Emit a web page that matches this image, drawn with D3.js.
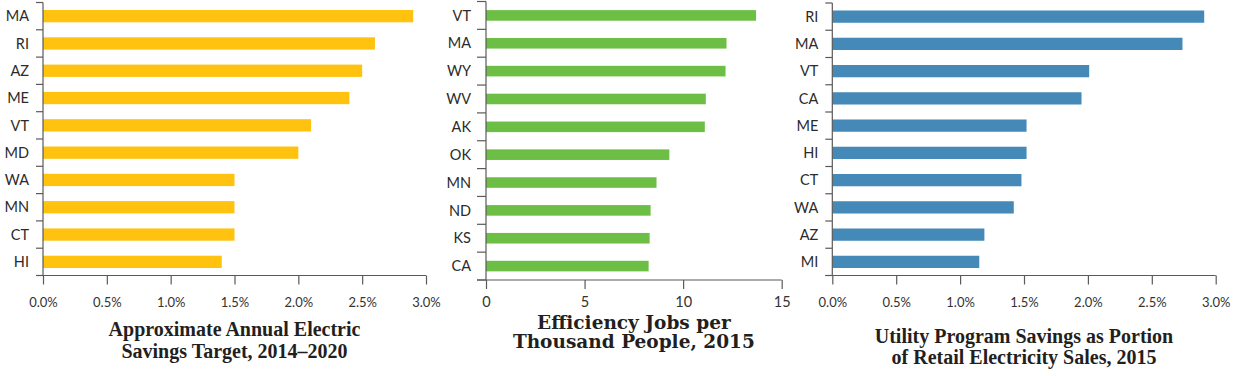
<!DOCTYPE html>
<html><head><meta charset="utf-8">
<script src="https://cdn.jsdelivr.net/npm/d3@7"></script>
<style>
html,body{margin:0;padding:0;background:#fff;}
svg{display:block;}
</style></head>
<body>
<svg id="chart" width="1238" height="376"></svg>
<script>
// ---- Data ----
const states1 = ["MA","RI","AZ","ME","VT","MD","WA","MN","CT","HI"];
const values1 = [2.9, 2.6, 2.5, 2.4, 2.1, 2.0, 1.5, 1.5, 1.5, 1.4];
const ticks1 = [0, 0.5, 1.0, 1.5, 2.0, 2.5, 3.0];
const title1 = ["Approximate Annual Electric", "Savings Target, 2014\u20132020"];

const states2 = ["VT","MA","WY","WV","AK","OK","MN","ND","KS","CA"];
const values2 = [13.7, 12.2, 12.15, 11.15, 11.1, 9.3, 8.65, 8.35, 8.3, 8.25];
const ticks2 = [0, 5, 10, 15];
const title2 = ["Efficiency Jobs per", "Thousand People, 2015"];

const states3 = ["RI","MA","VT","CA","ME","HI","CT","WA","AZ","MI"];
const values3 = [2.91, 2.74, 2.01, 1.95, 1.52, 1.52, 1.48, 1.42, 1.19, 1.15];
const ticks3 = [0, 0.5, 1.0, 1.5, 2.0, 2.5, 3.0];
const title3 = ["Utility Program Savings as Portion", "of Retail Electricity Sales, 2015"];

const svg = d3.select("#chart");
const axisColor = "#5a5a5a";

function panel(o) {
  const g = svg.append("g");
  const x = d3.scaleLinear().domain(o.domain).range([o.x0, o.x1]);
  const yb = d3.scaleBand().domain(o.states).range([o.y0, o.y1]).padding(0);
  const y = d3.scaleBand().domain(o.states).range([o.y0, o.y1]).paddingInner(o.pad).paddingOuter(o.pad / 2);

  // bars
  g.selectAll("rect.bar").data(o.states).join("rect")
    .attr("class", "bar")
    .attr("x", x(0))
    .attr("y", d => y(d))
    .attr("width", (d, i) => x(o.values[i]) - x(0))
    .attr("height", y.bandwidth())
    .attr("fill", o.color);

  // y axis line + boundary ticks
  g.append("line").attr("x1", x(0)).attr("x2", x(0)).attr("y1", o.y0).attr("y2", o.y1)
    .attr("stroke", axisColor).attr("stroke-width", 1.2);
  const bounds = o.states.map(d => yb(d)).concat([o.y1]);
  g.selectAll("line.yt").data(bounds).join("line").attr("class", "yt")
    .attr("x1", x(0) - o.ytick).attr("x2", x(0))
    .attr("y1", d => d).attr("y2", d => d)
    .attr("stroke", axisColor).attr("stroke-width", 1.2);
  // y labels
  g.selectAll("text.yl").data(o.states).join("text").attr("class", "yl")
    .attr("x", x(0) - o.labelGap)
    .attr("y", d => yb(d) + yb.bandwidth() / 2)
    .attr("dy", "0.36em")
    .attr("text-anchor", "end")
    .attr("font-family", "Lato, 'Open Sans', sans-serif")
    .attr("font-size", 14.5)
    .attr("fill", "#2b2b2b")
    .text(d => d);

  // x axis
  const ax = g.append("g").attr("transform", `translate(0,${o.y1})`)
    .call(d3.axisBottom(x).tickValues(o.ticks).tickSize(9).tickSizeOuter(0).tickPadding(o.tickPad).tickFormat(o.fmt));
  ax.select(".domain").attr("stroke", axisColor).attr("stroke-width", 1.2)
    .attr("d", `M${x(0) - o.ytick},0H${o.x1}`);
  ax.selectAll(".tick line").attr("stroke", axisColor).attr("stroke-width", 1.2);
  ax.selectAll(".tick text").attr("font-family", "Lato, 'Open Sans', sans-serif")
    .attr("font-size", o.tickFont).attr("fill", "#333");

  // title
  const cx = (o.x0 + o.x1) / 2;
  o.title.forEach((t, i) => {
    g.append("text").attr("x", cx).attr("y", o.titleY + i * o.titleLH)
      .attr("text-anchor", "middle")
      .attr("font-family", o.titleFont)
      .attr("font-weight", "bold")
      .attr("font-size", o.titleSize)
      .attr("fill", "#231f20")
      .text(t);
  });
}

const pct = d => d.toFixed(1) + "%";

panel({states: states1, values: values1, ticks: ticks1, domain: [0, 3], fmt: pct,
  x0: 43, x1: 426, y0: 2.5, y1: 275.5, pad: 0.55, color: "#FFC20E",
  ytick: 7, labelGap: 14, tickPad: 13, tickFont: 13,
  title: title1, titleY: 335.5, titleLH: 22, titleSize: 20,
  titleFont: "'Liberation Serif', 'Times New Roman', serif"});

panel({states: states2, values: values2, ticks: ticks2, domain: [0, 15], fmt: d3.format("d"),
  x0: 486, x1: 781.7, y0: 1.5, y1: 280, pad: 0.62, color: "#6CBE45",
  ytick: 9, labelGap: 15, tickPad: 8, tickFont: 14.5,
  title: title2, titleY: 328.5, titleLH: 19.5, titleSize: 18.5,
  titleFont: "'DejaVu Serif', Georgia, serif"});

panel({states: states3, values: values3, ticks: ticks3, domain: [0, 3], fmt: pct,
  x0: 832.3, x1: 1215.7, y0: 3, y1: 275.5, pad: 0.55, color: "#4589B8",
  ytick: 7, labelGap: 14, tickPad: 13, tickFont: 13,
  title: title3, titleY: 342.5, titleLH: 21.5, titleSize: 20,
  titleFont: "'Liberation Serif', 'Times New Roman', serif"});
</script>
</body></html>
